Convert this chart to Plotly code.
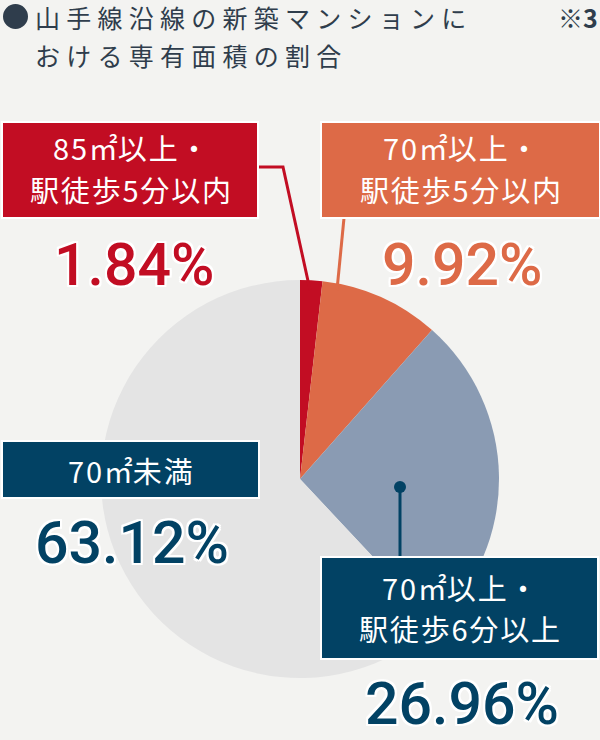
import plotly.graph_objects as go

W, H = 600, 740

# data
labels = ["85㎡以上・<br>駅徒歩5分以内", "70㎡以上・<br>駅徒歩5分以内",
          "70㎡以上・<br>駅徒歩6分以上", "70㎡未満"]
values = [1.84, 9.92, 26.96, 63.12]
title_lines = ["山手線沿線の新築マンションに", "おける専有面積の割合"]
note = "※3"

# styles
slice_colors = ["#c20d23", "#dd6a47", "#8a9bb3", "#e4e4e4"]
box_colors = ["#c20d23", "#dd6a47", "#024264", "#024264"]
pct_colors = ["#c20d23", "#dd6a47", "#024264", "#024264"]
title_color = "#2f3d4c"
bg = "#f3f3f1"

# label placement (pixels from top-left)
box_pos = [(2, 122, 258, 218), (321, 122, 600, 218), (321, 557, 598, 659), (2, 441, 259, 498)]
line_y = [(147, 189), (147, 189), (587, 628), (470,)]
pct_pos = [(134, 264), (462, 264), (462, 703), (132, 542)]
leaders = [("M 258 167 L 283 167 L 310 290", 0),
           ("M 344 218 L 337 290", 1),
           ("M 400 487 L 400 557", 2)]


def px(x):
    return x / W


def py(y):
    return 1 - y / H


outline = ", ".join(f"{a}px {b}px 0 #fff" for a in (-2, 0, 2) for b in (-2, 0, 2) if a or b)

fig = go.Figure(go.Pie(
    values=values, labels=[l.replace("<br>", "") for l in labels],
    sort=False, direction="clockwise", rotation=0,
    marker=dict(colors=slice_colors, line=dict(width=0)),
    textinfo="none", hoverinfo="skip",
    domain=dict(x=[px(101), px(499)], y=[py(678), py(280)]),
))

shapes = []
annotations = []

for path, i in leaders:
    pts = path.replace("M", "").split("L")
    d = " L ".join(f"{px(float(p.split()[0]))} {py(float(p.split()[1]))}" for p in pts)
    shapes.append(dict(type="path", path="M " + d, xref="paper", yref="paper",
                       line=dict(color=box_colors[i], width=3), layer="above"))

# dot on the blue slice
shapes.append(dict(type="circle", xref="paper", yref="paper",
                   x0=px(394), x1=px(406), y0=py(481), y1=py(493),
                   fillcolor=box_colors[2], line=dict(width=0), layer="above"))

for i, lab in enumerate(labels):
    x0, y0, x1, y1 = box_pos[i]
    shapes.append(dict(type="rect", xref="paper", yref="paper",
                       x0=px(x0), x1=px(x1), y0=py(y1), y1=py(y0),
                       fillcolor=box_colors[i], line=dict(color="white", width=2), layer="above"))
    for txt, ly in zip(lab.split("<br>"), line_y[i]):
        annotations.append(dict(text="\u200a".join(txt).replace("㎡\u200a", "㎡"),
                                x=px((x0 + x1) / 2), y=py(ly), xref="paper", yref="paper",
                                xanchor="center", yanchor="middle", showarrow=False,
                                font=dict(family="Noto Sans CJK JP", size=29, color="white")))
    cx, cy = pct_pos[i]
    annotations.append(dict(text=f"{values[i]:.2f}%", x=px(cx), y=py(cy), xref="paper", yref="paper",
                            xanchor="center", yanchor="middle", showarrow=False,
                            font=dict(family="Roboto", size=59, color=pct_colors[i], weight=500,
                                      shadow=outline)))

# title
shapes.append(dict(type="circle", xref="paper", yref="paper",
                   x0=px(3), x1=px(28), y0=py(29), y1=py(4),
                   fillcolor=title_color, line=dict(width=0)))
for txt, ty in zip(title_lines, (17, 55)):
    annotations.append(dict(text="\u2005".join(txt), x=px(33), y=py(ty), xref="paper", yref="paper",
                            xanchor="left", yanchor="middle", showarrow=False,
                            font=dict(family="Noto Sans CJK JP", size=25, color=title_color)))
annotations.append(dict(text=note, x=px(600), y=py(17), xref="paper", yref="paper",
                        xanchor="right", yanchor="middle", showarrow=False,
                        font=dict(family="Noto Sans CJK JP", size=25, color=title_color, weight=700)))

fig.update_layout(
    width=W, height=H, margin=dict(l=0, r=0, t=0, b=0),
    paper_bgcolor=bg, plot_bgcolor=bg, showlegend=False,
    shapes=shapes, annotations=annotations,
)

# drop the page margin so the figure fills the window
fig.write_html("out.html", config={"displayModeBar": False},
               post_script="document.body.style.margin='0';document.body.style.overflow='hidden';")
